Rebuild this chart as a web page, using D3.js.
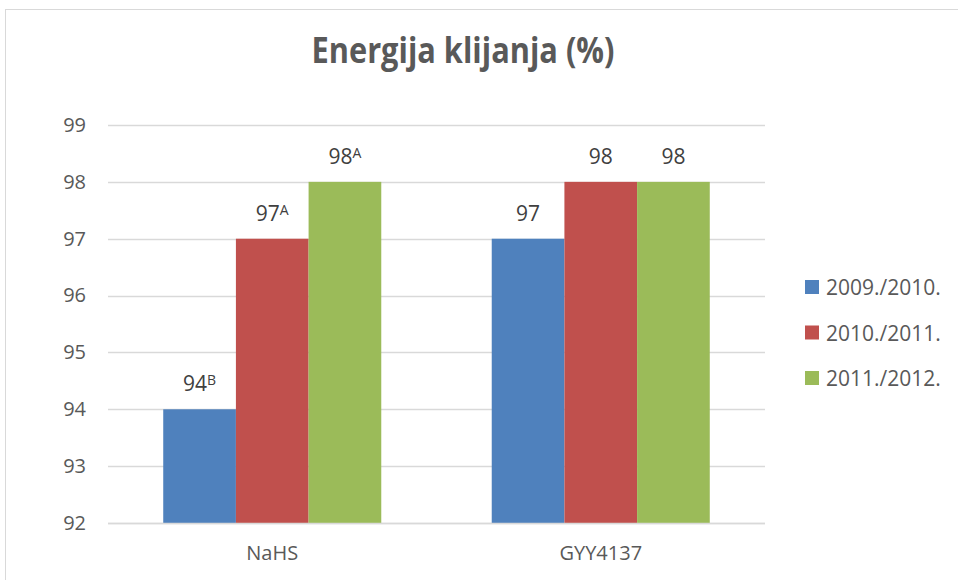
<!DOCTYPE html>
<html>
<head>
<meta charset="utf-8">
<script src="https://cdn.jsdelivr.net/npm/d3@7"></script>
<style>
  body { margin: 0; background: #fff; }
  text { font-family: "Open Sans", "Noto Sans", sans-serif; fill: #595959; }
</style>
</head>
<body>
<svg id="chart" width="958" height="580"></svg>
<script>
// ===== data =====
const categories = ["NaHS", "GYY4137"];
const seriesNames = ["2009./2010.", "2010./2011.", "2011./2012."];
const seriesColors = ["#4f81bd", "#c0504d", "#9bbb59"];
const values2009 = [94, 97];
const values2010 = [97, 98];
const values2011 = [98, 98];
const superscripts2009 = ["B", ""];
const superscripts2010 = ["A", ""];
const superscripts2011 = ["A", ""];
const yTicks = [92, 93, 94, 95, 96, 97, 98, 99];

const seriesValues = [values2009, values2010, values2011];
const seriesSups = [superscripts2009, superscripts2010, superscripts2011];

const svg = d3.select("#chart");

// chart frame
svg.append("rect")
  .attr("x", 5.5).attr("y", 9.5)
  .attr("width", 1000).attr("height", 700)
  .attr("fill", "#fff")
  .attr("stroke", "#d9d9d9");

// title
svg.append("text")
  .attr("x", 463).attr("y", 63)
  .attr("text-anchor", "middle")
  .attr("textLength", 303)
  .attr("lengthAdjust", "spacingAndGlyphs")
  .style("font-size", "36px")
  .style("font-weight", "bold")
  .text("Energija klijanja (%)");

const margin = { top: 125, left: 108, right: 193, bottom: 57 };
const width = 958 - margin.left - margin.right;
const height = 580 - margin.top - margin.bottom;

const g = svg.append("g")
  .attr("transform", `translate(${margin.left},${margin.top})`);

const x0 = d3.scaleBand().domain(categories).range([0, width]).padding(0);
const x1 = d3.scaleBand().domain(d3.range(seriesNames.length))
  .range([0, x0.bandwidth()]).paddingInner(0).paddingOuter(0.76);
const y = d3.scaleLinear().domain([92, 99]).range([height, 0]);

// gridlines
g.selectAll("line.grid")
  .data(yTicks)
  .enter()
  .append("line")
  .attr("class", "grid")
  .attr("x1", 0).attr("x2", width)
  .attr("y1", (d) => Math.round(y(d)) + 0.5)
  .attr("y2", (d) => Math.round(y(d)) + 0.5)
  .attr("stroke", "#d9d9d9")
  .attr("stroke-width", 1.3);

// y axis labels
const yAxis = d3.axisLeft(y).tickValues(yTicks).tickFormat(d3.format("d"))
  .tickSize(0).tickPadding(22);
const yAxisG = g.append("g").call(yAxis);
yAxisG.select(".domain").remove();
yAxisG.selectAll("text")
  .style("font-size", "20px")
  .style("fill", "#595959")
  .style("font-family", "'Open Sans', sans-serif");

// bars
const groups = g.selectAll("g.cat")
  .data(categories)
  .enter()
  .append("g")
  .attr("class", "cat")
  .attr("transform", (d) => `translate(${x0(d)},0)`);

groups.each(function (cat, ci) {
  const grp = d3.select(this);
  seriesNames.forEach((s, si) => {
    const v = seriesValues[si][ci];
    grp.append("rect")
      .attr("x", x1(si))
      .attr("y", y(v))
      .attr("width", x1.bandwidth())
      .attr("height", y(92) - y(v))
      .attr("fill", seriesColors[si]);
    const t = grp.append("text")
      .attr("x", x1(si) + x1.bandwidth() / 2)
      .attr("y", y(v) - 18)
      .attr("text-anchor", "middle")
      .style("font-size", "21px")
      .style("fill", "#404040");
    t.append("tspan").text(v);
    const sup = seriesSups[si][ci];
    if (sup) {
      t.append("tspan")
        .attr("dy", -6)
        .style("font-size", "14px")
        .text(sup);
    }
  });
});

// bottom axis line (over bars)
g.append("line")
  .attr("x1", 0).attr("x2", width)
  .attr("y1", height + 0.5).attr("y2", height + 0.5)
  .attr("stroke", "#d9d9d9")
  .attr("stroke-width", 1.5);

// category labels
g.selectAll("text.cat")
  .data(categories)
  .enter()
  .append("text")
  .attr("class", "cat")
  .attr("x", (d) => x0(d) + x0.bandwidth() / 2)
  .attr("y", height + 37)
  .attr("text-anchor", "middle")
  .style("font-size", "20px")
  .text((d) => d);

// legend
const legend = svg.append("g").attr("transform", "translate(805,287)");
seriesNames.forEach((s, i) => {
  const row = legend.append("g").attr("transform", `translate(0,${i * 45.5})`);
  row.append("rect")
    .attr("x", 0).attr("y", -7)
    .attr("width", 14).attr("height", 14)
    .attr("fill", seriesColors[i]);
  row.append("text")
    .attr("x", 21).attr("y", 8)
    .style("font-size", "21px")
    .text(s);
});
</script>
</body>
</html>
